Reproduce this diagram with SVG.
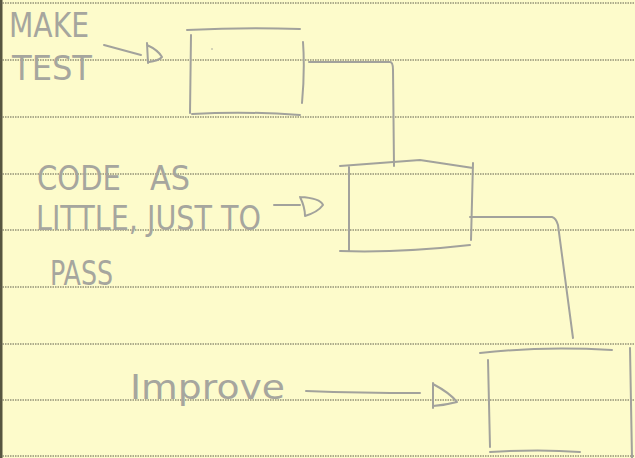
<svg xmlns="http://www.w3.org/2000/svg" width="635" height="458" viewBox="0 0 635 458">
<style>
.rule{stroke:#5f5d4c;stroke-width:1;stroke-dasharray:1.5 1;fill:none}
.pen{stroke:#a2a29c;stroke-width:2;fill:none;stroke-linecap:round;stroke-linejoin:round}
.hand{font-family:"DejaVu Sans","Liberation Sans",sans-serif;fill:#a6a69e;font-size:34px;font-weight:normal}
</style>
<rect x="0" y="0" width="635" height="458" fill="#fdfbcb"/>
<rect x="0" y="0" width="2.5" height="458" fill="#56553f"/>
<g id="ruling">
<line class="rule" x1="0" y1="3" x2="635" y2="3"/>
<line class="rule" x1="0" y1="60" x2="635" y2="60"/>
<line class="rule" x1="0" y1="117" x2="635" y2="117"/>
<line class="rule" x1="0" y1="174" x2="635" y2="174"/>
<line class="rule" x1="0" y1="230" x2="635" y2="230"/>
<line class="rule" x1="0" y1="287" x2="635" y2="287"/>
<line class="rule" x1="0" y1="344" x2="635" y2="344"/>
<line class="rule" x1="0" y1="400" x2="635" y2="400"/>
<line class="rule" x1="0" y1="456" x2="635" y2="456"/>
</g>
<g id="node-test">
<path class="pen" d="M187,30 Q245,27 300,29 M191,35 L190,113 M303,42 Q305,70 302,103 M192,114 Q245,111 300,115"/>
<circle cx="212" cy="49" r="0.8" fill="#a2a29c"/>
</g>
<g id="node-code">
<path class="pen" d="M340,166 L420,160 L473,168 M349,167 L349,250 M473,163 L471,240 M340,251 Q400,253 470,245"/>
</g>
<g id="node-improve">
<path class="pen" d="M480,353 Q540,346 612,350 M488,360 L490,447 M630,348 L632,458 M490,452 Q540,449 580,452"/>
</g>
<g id="connectors">
<path class="pen" d="M309,62 L390,62 Q393,62 393,70 L394,166"/>
<path class="pen" d="M470,217 L552,217 Q556,218 558,225 L573,338"/>
<path class="pen" d="M104,45 L141,55 M147,43 L148,63 M147,45 Q158,50 162,57 Q158,61 149,62"/>
<path class="pen" d="M274,205 L300,205 M300,197 Q305,207 305,216 M300,197 Q320,198 323,205 Q318,212 305,216"/>
<path class="pen" d="M306,391 Q360,393 420,393 M433,383 L433,408 M433,384 Q450,393 457,402 Q446,405 433,406"/>
</g>
<g id="labels">
<text class="hand" x="9" y="37" textLength="80" lengthAdjust="spacingAndGlyphs">MAKE</text>
<text class="hand" x="12" y="80" textLength="80" lengthAdjust="spacingAndGlyphs">TEST</text>
<text class="hand" x="37" y="190"><tspan textLength="84" lengthAdjust="spacingAndGlyphs">CODE</tspan><tspan x="150" textLength="40" lengthAdjust="spacingAndGlyphs">AS</tspan></text>
<text class="hand" x="36" y="230" textLength="225" lengthAdjust="spacingAndGlyphs">LITTLE, JUST TO</text>
<text class="hand" x="50" y="285" textLength="63" lengthAdjust="spacingAndGlyphs">PASS</text>
<text class="hand" x="130" y="399" textLength="155" lengthAdjust="spacingAndGlyphs">Improve</text>
</g>
</svg>
